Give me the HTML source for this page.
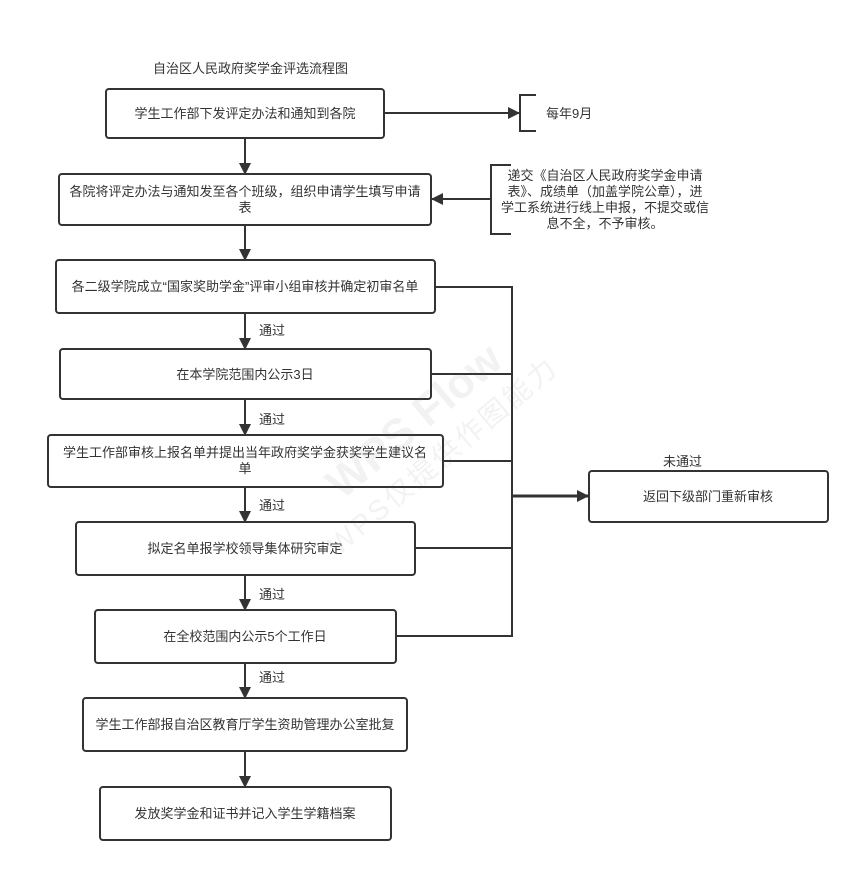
<!DOCTYPE html>
<html><head><meta charset="utf-8"><style>
html,body{margin:0;padding:0;background:#fff;}
svg{display:block;}
text{font-family:"Liberation Sans","Noto Sans CJK SC",sans-serif;font-size:13px;fill:#333;}
</style></head><body>
<svg width="860" height="873" viewBox="0 0 860 873" xmlns="http://www.w3.org/2000/svg">
<defs><marker id="a" markerWidth="12" markerHeight="12" refX="11" refY="6" orient="auto" markerUnits="userSpaceOnUse"><path d="M0,0 L12,6 L0,12 z" fill="#333"/></marker></defs>
<text x="153" y="73">自治区人民政府奖学金评选流程图</text>
<g fill="#fff" stroke="#333" stroke-width="2">
<rect x="106" y="89" width="278" height="49" rx="3"/>
<rect x="59" y="174" width="372" height="51" rx="3"/>
<rect x="56" y="260" width="379" height="53" rx="3"/>
<rect x="60" y="349" width="371" height="50" rx="3"/>
<rect x="48" y="435" width="395" height="52" rx="3"/>
<rect x="76" y="522" width="339" height="53" rx="3"/>
<rect x="95" y="610" width="301" height="53" rx="3"/>
<rect x="83" y="698" width="324" height="53" rx="3"/>
<rect x="100" y="787" width="291" height="53" rx="3"/>
<rect x="589" y="471" width="239" height="51" rx="3"/>
</g>
<g stroke="#333" stroke-width="2" fill="none">
<line x1="245" y1="138" x2="245" y2="174" marker-end="url(#a)"/>
<line x1="245" y1="225" x2="245" y2="260" marker-end="url(#a)"/>
<line x1="245" y1="313" x2="245" y2="349" marker-end="url(#a)"/>
<line x1="245" y1="399" x2="245" y2="435" marker-end="url(#a)"/>
<line x1="245" y1="487" x2="245" y2="522" marker-end="url(#a)"/>
<line x1="245" y1="575" x2="245" y2="610" marker-end="url(#a)"/>
<line x1="245" y1="663" x2="245" y2="698" marker-end="url(#a)"/>
<line x1="245" y1="751" x2="245" y2="787" marker-end="url(#a)"/>
<line x1="384" y1="113" x2="519" y2="113" marker-end="url(#a)"/>
<path d="M536,95 L520,95 L520,131 L536,131"/>
<line x1="491" y1="199" x2="432" y2="199" marker-end="url(#a)"/>
<path d="M511,165 L491,165 L491,234 L511,234"/>
<path d="M435,287 L512,287 L512,636 L396,636"/>
<line x1="431" y1="374" x2="512" y2="374"/>
<line x1="443" y1="461" x2="512" y2="461"/>
<line x1="415" y1="548" x2="512" y2="548"/>
<line x1="512" y1="496" x2="588" y2="496" stroke-width="3" marker-end="url(#a)"/>
</g>
<g text-anchor="middle">
<text x="245" y="118">学生工作部下发评定办法和通知到各院</text>
<text x="245" y="196">各院将评定办法与通知发至各个班级，组织申请学生填写申请</text>
<text x="245" y="212">表</text>
<text x="245" y="291">各二级学院成立“国家奖助学金”评审小组审核并确定初审名单</text>
<text x="245" y="379">在本学院范围内公示3日</text>
<text x="245" y="457">学生工作部审核上报名单并提出当年政府奖学金获奖学生建议名</text>
<text x="245" y="473">单</text>
<text x="245" y="553">拟定名单报学校领导集体研究审定</text>
<text x="245" y="641">在全校范围内公示5个工作日</text>
<text x="245" y="729">学生工作部报自治区教育厅学生资助管理办公室批复</text>
<text x="245" y="818">发放奖学金和证书并记入学生学籍档案</text>
<text x="708" y="501">返回下级部门重新审核</text>
<text x="605" y="180">递交《自治区人民政府奖学金申请</text>
<text x="605" y="196">表》、成绩单（加盖学院公章），进</text>
<text x="605" y="212">学工系统进行线上申报，不提交或信</text>
<text x="605" y="228">息不全，不予审核。</text>
</g>
<text x="546" y="118">每年9月</text>
<text x="259" y="335">通过</text>
<text x="259" y="424">通过</text>
<text x="259" y="510">通过</text>
<text x="259" y="599">通过</text>
<text x="259" y="682">通过</text>
<text x="663" y="466">未通过</text>
<g transform="translate(430,440) rotate(-40)" opacity="0.08">
<text x="0" y="-10" text-anchor="middle" style="font-size:44px;font-weight:bold;fill:#666">WPS Flow</text>
<text x="0" y="30" text-anchor="middle" style="font-size:28px;fill:#666;letter-spacing:3px">WPS仅提供作图能力</text>
</g>
</svg>
</body></html>
